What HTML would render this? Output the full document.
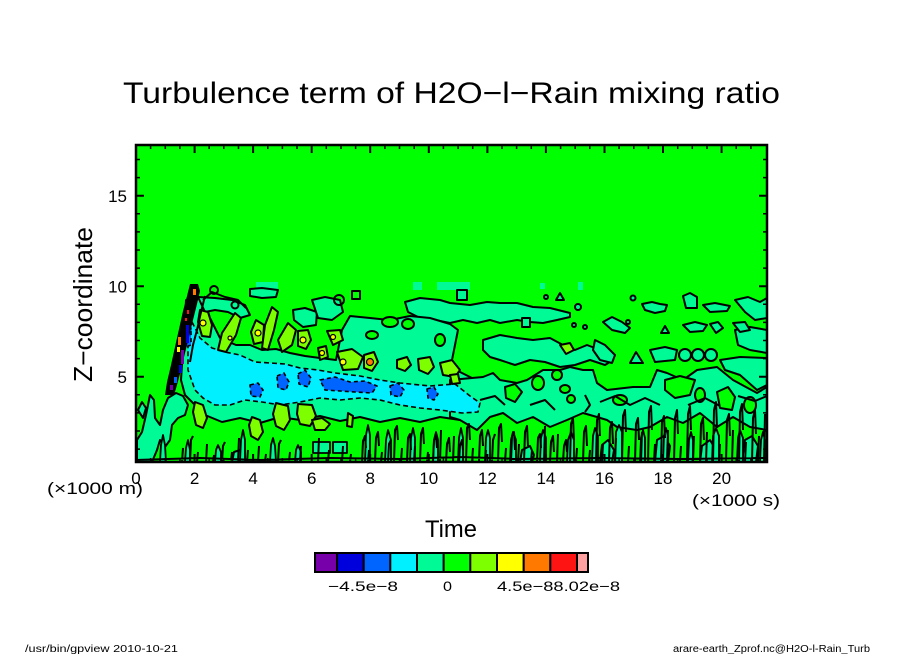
<!DOCTYPE html>
<html><head><meta charset="utf-8"><style>
html,body{margin:0;padding:0;background:#fff;}
svg{display:block;}
text{font-family:"Liberation Sans",sans-serif;fill:#000;}
</style></head><body>
<svg width="904" height="654" viewBox="0 0 904 654" xmlns="http://www.w3.org/2000/svg">
<defs><clipPath id="pc"><rect x="136" y="145" width="631" height="317"/></clipPath></defs>

<text x="123" y="103" font-size="30" textLength="657" lengthAdjust="spacingAndGlyphs">Turbulence term of H2O−l−Rain mixing ratio</text>

<g clip-path="url(#pc)" stroke-linejoin="round">
<rect x="136" y="145" width="631" height="317" fill="#00ff00"/>
<g fill="#00fa96">
<rect x="256" y="282" width="22" height="9"/><rect x="413" y="282" width="9" height="8"/><rect x="437" y="282" width="33" height="8"/><rect x="578" y="282" width="5" height="8"/><rect x="540" y="283" width="5" height="6"/>
</g>
<g fill="#00fa96" stroke="#000" stroke-width="2">
<polygon points="405,302 420,298 440,300 450,303 470,305 487,302 500,303 517,303 533,307 550,308 570,313 570,317 557,320 543,323 530,322 517,320 500,323 490,320 477,323 463,320 450,323 435,320 420,318 408,312"/>
<polygon points="186,300 196,296 205,302 210,318 220,338 236,345 250,345 262,350 276,349 290,353 305,356 320,358 336,360 342,330 350,316 370,318 390,320 410,316 430,318 450,324 458,330 455,345 452,360 460,372 472,378 485,380 482,395 478,415 460,420 440,417 420,422 400,418 380,422 360,417 340,421 320,416 300,420 280,417 260,423 240,418 222,422 205,415 195,405 185,395 181,380 183,350 185,320"/>
<polygon points="198,297 215,298 232,300 245,305 250,315 240,318 228,312 215,310 205,312"/>
<polygon points="250,289 262,288 278,290 276,297 262,298 250,296"/>
<polygon points="293,310 305,308 317,312 316,325 303,327 294,320"/>
<polygon points="312,300 325,297 340,300 343,312 332,320 318,318"/>
<polygon points="483,340 500,335 517,338 533,340 550,338 563,345 575,350 587,345 600,350 613,360 605,365 590,360 575,365 560,367 545,362 530,360 515,365 500,360 490,357 483,350"/>
<polygon points="595,340 605,345 615,355 612,363 600,360 593,350"/>
<polygon points="630,363 636,352 643,363"/>
<polygon points="650,350 665,347 677,350 675,360 655,362"/>
<ellipse cx="685" cy="355" rx="6" ry="6"/><ellipse cx="698" cy="355" rx="6" ry="6"/><ellipse cx="711" cy="355" rx="6" ry="6"/>
<polygon points="720,360 740,357 767,358 767,385 757,390 740,375 725,370"/>
<polygon points="735,330 750,327 767,330 767,353 750,350 738,345"/>
<polygon points="450,380 483,377 493,373 500,380 517,383 527,380 543,370 560,370 570,367 583,370 593,370 597,383 607,390 633,387 650,387 657,370 667,373 683,380 697,370 717,367 733,380 757,393 767,387 767,430 750,427 733,417 717,427 700,413 683,423 667,417 650,427 637,430 617,427 607,420 597,417 583,413 567,420 550,427 533,417 517,423 503,413 490,417 477,430 460,420 450,417"/>
<rect x="457" y="290" width="10" height="10"/>
<polygon points="556,300 560,293 564,300"/>
<circle cx="578" cy="307" r="3"/><circle cx="633" cy="298" r="2.5"/>
<polygon points="642,304 652,302 660,304 667,305 665,311 655,313 645,310"/>
<polygon points="683,296 690,293 697,297 697,308 686,308"/>
<polygon points="703,305 715,303 730,306 727,311 710,312"/>
<polygon points="735,300 748,297 760,302 767,298 767,318 755,320 745,312"/>
<rect x="522" y="318" width="8" height="9"/>
<circle cx="574" cy="325" r="2"/><circle cx="585" cy="327" r="2"/>
<polygon points="603,322 612,317 622,322 630,328 625,333 612,330"/>
<polygon points="661,333 665,326 669,333"/>
<polygon points="683,325 695,322 707,325 703,331 690,332"/>
<polygon points="710,324 718,322 723,328 716,333"/>
<polygon points="733,323 745,322 750,330 740,332"/>
<circle cx="628" cy="322" r="2"/><circle cx="546" cy="297" r="2"/>
<polygon points="137,462 137,440 142,432 146,415 150,395 154,400 155,418 160,425 163,410 168,398 176,393 183,396 188,405 185,415 178,418 172,425 170,440 165,447 160,440 157,450 152,462"/>
<polygon points="138,410 142,402 146,408 143,418"/>
<!-- extra bottom seafoam patches -->
<polygon points="600,462 602,445 608,440 614,450 612,462"/>
<polygon points="655,462 657,440 664,436 670,446 668,462"/>
<polygon points="700,462 702,446 710,440 716,450 714,462"/>
<polygon points="742,462 745,440 752,436 758,446 756,462"/>
<polygon points="520,462 522,450 530,446 534,455 532,462"/>
<polygon points="232,462 234,452 240,450 244,456 242,462"/>
</g>
<g fill="#00ff00" stroke="#000" stroke-width="2">
<ellipse cx="538" cy="383" rx="6" ry="7"/><ellipse cx="557" cy="375" rx="5" ry="5"/><ellipse cx="565" cy="389" rx="5" ry="4"/><ellipse cx="571" cy="399" rx="4" ry="4"/>
<polygon points="665,380 680,376 695,380 690,395 675,398 665,390"/>
<polygon points="717,392 728,387 735,397 732,410 720,408"/>
<ellipse cx="390" cy="322" rx="8" ry="5"/><ellipse cx="408" cy="324" rx="6" ry="5"/>
<polygon points="505,387 515,384 522,392 515,402 506,398"/>
<ellipse cx="620" cy="400" rx="7" ry="5"/>
<ellipse cx="700" cy="395" rx="5" ry="7"/>
<ellipse cx="750" cy="405" rx="6" ry="8"/>
<ellipse cx="372" cy="335" rx="6" ry="4"/><ellipse cx="440" cy="340" rx="5" ry="6"/>
</g>
<polygon fill="#00f0ff" stroke="#000" stroke-width="1.6" stroke-dasharray="5 3" points="192,322 200,338 212,348 225,352 240,355 255,362 270,363 285,364 300,368 318,370 335,373 360,376 380,380 400,383 430,386 455,384 470,396 480,403 478,412 462,413 440,410 420,408 400,405 380,400 360,398 340,400 320,398 300,402 280,405 262,402 245,400 230,405 215,405 203,398 195,390 188,370 188,345"/>
<g fill="#0064ff" stroke="#000" stroke-width="1.6" stroke-dasharray="4 3">
<polygon points="250,385 258,383 263,390 260,397 251,396"/>
<polygon points="277,376 284,373 289,382 286,390 278,388"/>
<polygon points="298,374 305,370 311,378 308,387 299,384"/>
<polygon points="320,380 335,377 350,382 365,381 377,386 372,393 355,392 340,391 325,390"/>
<polygon points="390,386 398,383 404,390 400,397 391,395"/>
<polygon points="427,389 434,387 438,394 434,400 428,398"/>
<polygon points="186,327 191,330 191,345 186,347"/>
</g>
<g fill="#7dff00" stroke="#000" stroke-width="2">
<polygon points="200,310 208,312 212,325 210,337 202,336 198,322"/>
<polygon points="235,313 241,318 236,335 226,352 218,350 222,333"/>
<polygon points="256,320 264,325 263,342 254,344 251,332"/>
<polygon points="272,307 278,312 274,330 268,350 262,348 265,325"/>
<polygon points="288,323 296,330 292,345 282,352 278,340"/>
<polygon points="298,331 308,330 311,340 306,349 298,346"/>
<polygon points="318,348 326,346 328,357 320,360"/>
<polygon points="327,331 340,330 343,340 333,345"/>
<polygon points="337,352 352,349 363,357 358,369 343,370"/>
<polygon points="364,355 374,352 378,362 372,371 364,368"/>
<polygon points="397,360 407,357 411,365 405,371 397,368"/>
<polygon points="418,359 430,357 434,367 428,374 419,370"/>
<polygon points="440,363 452,360 460,370 455,377 443,375"/>
<polygon points="195,402 203,405 207,418 203,428 196,425 193,412"/>
<polygon points="252,417 260,420 263,432 258,440 251,436 249,425"/>
<polygon points="276,403 288,406 290,420 284,430 276,426 273,414"/>
<polygon points="298,404 312,405 316,416 310,426 300,424 297,414"/>
<polygon points="312,420 322,418 330,424 325,430 315,430"/>
<polygon points="348,413 353,416 352,427 347,426"/>
<polygon points="450,375 458,374 460,383 452,384"/>
<polygon points="560,345 570,343 574,350 566,354"/>
</g>
<g stroke="#000" stroke-width="1.2">
<circle cx="203" cy="323" r="3" fill="#ffff00"/>
<circle cx="258" cy="333" r="3" fill="#ffff00"/>
<circle cx="303" cy="340" r="3" fill="#ffff00"/>
<circle cx="322" cy="353" r="2.5" fill="#ffff00"/>
<circle cx="333" cy="337" r="2.5" fill="#ffff00"/>
<circle cx="343" cy="362" r="3" fill="#ffff00"/>
<circle cx="370" cy="362" r="3.5" fill="#ff7800"/>
<circle cx="230" cy="338" r="2" fill="#ffff00"/>
</g>
<!-- leading streak (narrower) -->
<polygon fill="#000" points="190,284 198,284 200,291 197,304 193,320 189,337 185,353 181,370 177,385 174,395 165,395 167,382 171,365 175,347 179,329 183,311 187,296"/>
<g>
<rect x="193" y="289" width="3" height="6" fill="#ff7800"/>
<rect x="187" y="310" width="2" height="4" fill="#ff1414"/>
<rect x="185" y="318" width="2" height="3" fill="#ff1414"/>
<rect x="186" y="325" width="3" height="18" fill="#0000dc"/>
<rect x="178" y="337" width="3" height="8" fill="#ff7800"/>
<rect x="177" y="347" width="3" height="5" fill="#ffff00"/>
<rect x="181" y="350" width="3" height="14" fill="#7800aa"/>
<rect x="179" y="365" width="3" height="8" fill="#0000dc"/>
<rect x="174" y="377" width="3" height="6" fill="#0064ff"/>
<rect x="170" y="385" width="3" height="5" fill="#7800aa"/>
</g>
<g fill="none" stroke="#000" stroke-width="2">
<circle cx="214" cy="290" r="4"/><circle cx="235" cy="305" r="3.5"/><circle cx="339" cy="300" r="5"/>
<rect x="352" y="291" width="8" height="8"/>
<polyline points="203,300 212,292 225,297 238,300 246,308"/>
<polyline points="205,296 201,312 197,330 193,345 190,362"/>
<polyline points="600,402 615,396 630,405 645,398 660,405"/>
<polyline points="688,405 705,398 720,406"/>
<polyline points="738,396 755,401 767,396"/>
<polyline points="480,400 495,396 505,405"/>
<polyline points="530,405 545,400 555,410"/>
<polyline points="585,395 590,405 585,412"/>
</g>
<g fill="#00fa96" stroke="#000" stroke-width="1.8">
<polygon points="160,462 161,445 163,435 165,445 166,462"/>
<polygon points="185,462 186,448 188,440 190,450 190,462"/>
<polygon points="215,462 216,450 218,445 221,452 221,462"/>
<polygon points="240,462 241,440 243,430 245,440 245,462"/>
<polygon points="270,462 271,445 273,438 275,446 276,462"/>
<polygon points="295,462 296,450 298,445 301,452 301,462"/>
<rect x="313" y="442" width="17" height="11"/>
<rect x="333" y="442" width="14" height="11"/>
<polygon points="365,462 366,435 368,425 370,435 370,462"/>
<polygon points="385,462 386,440 388,430 391,440 391,462"/>
<polygon points="410,462 411,438 413,428 415,438 415,462"/>
<polygon points="433,462 434,440 436,432 438,440 438,462"/>
<polygon points="458,462 459,438 461,428 463,438 463,462"/>
<polygon points="485,462 486,438 488,430 490,438 490,462"/>
<polygon points="510,462 511,440 513,432 516,440 516,462"/>
<polygon points="540,462 541,438 543,430 546,438 546,462"/>
<polygon points="567,462 568,440 571,432 574,440 574,462"/>
<polygon points="592,462 593,436 595,428 598,436 598,462"/>
<polygon points="615,462 616,432 619,425 622,432 622,462"/>
<polygon points="640,462 641,438 643,430 645,438 645,462"/>
<polygon points="663,462 664,436 666,428 668,436 668,462"/>
<polygon points="688,462 689,440 691,432 693,440 693,462"/>
<polygon points="712,462 713,436 716,428 719,436 719,462"/>
<polygon points="737,462 738,438 740,430 743,438 743,462"/>
<polygon points="760,462 761,440 763,432 765,440 765,462"/>
</g>
<path fill="none" stroke="#000" stroke-width="2" d="
M362,462L363,441L365,436L366,448 M368,462L369,450 M375,462L376,438L378,432L379,446 M381,462L382,452
M388,462L389,444L391,440 M394,462L395,430L397,426L398,440 M401,462L402,448 M407,462L408,438L410,434L411,450
M414,462L415,446 M420,462L421,434L423,428L424,444 M427,462L428,452 M433,462L434,440L436,436L437,448
M440,462L441,430 M446,462L447,444L449,438L450,452 M453,462L454,436 M459,462L460,446L462,440L463,450
M466,462L467,428L469,424L470,440 M472,462L473,448 M479,462L480,436L482,430L483,446 M485,462L486,450
M492,462L493,440L495,434 M498,462L499,428L501,424L502,442 M505,462L506,448 M511,462L512,436L514,432L515,450
M518,462L519,444 M524,462L525,432L527,426L528,446 M531,462L532,450 M537,462L538,438L540,434L541,448
M544,462L545,426 M550,462L551,442L553,436L554,452 M557,462L558,434 M563,462L564,446L566,440L567,452
M570,462L571,424L573,418L574,440 M576,462L577,448 M583,462L584,432L586,426L587,446 M589,462L590,450
M596,462L597,420L599,414L600,436 M602,462L603,444 M609,462L610,428L612,422L613,444 M615,462L616,438
M622,462L623,416L625,410L626,432 M628,462L629,446 M635,462L636,424L638,418L639,440 M641,462L642,432
M648,462L649,412L651,406L652,430 M654,462L655,444 M661,462L662,422L664,416L665,438 M667,462L668,430
M674,462L675,418L677,410L678,434 M680,462L681,446 M687,462L688,414L690,406L691,430 M693,462L694,436
M700,462L701,424L703,418L704,440 M706,462L707,432 M713,462L714,410L716,402L717,428 M719,462L720,444
M726,462L727,420L729,414L730,436 M732,462L733,430 M739,462L740,412L742,404L743,430 M745,462L746,442
M752,462L753,418L755,410L756,434 M758,462L759,436 M764,462L765,414
M182,462L183,448 M190,462L191,440L193,436 M197,462L198,452 M206,462L207,444 M213,462L214,455 M222,462L223,446L225,442
M231,462L232,452 M238,462L239,438 M247,462L248,450 M258,462L259,446 M265,462L266,454 M278,462L279,444L281,440
M289,462L290,452 M300,462L301,446 M318,462L319,438 M328,462L329,450 M342,462L343,446 M350,462L351,454
M136,460L200,458L260,460L330,458L400,459L460,457L520,459L600,458L680,459L767,458"/>
</g>

<rect x="136" y="145" width="631" height="317" fill="none" stroke="#000" stroke-width="2.5"/>
<path stroke="#000" stroke-width="2" fill="none" d="
M136,462v-8M194.6,462v-8M253.1,462v-8M311.7,462v-8M370.2,462v-8M428.8,462v-8M487.4,462v-8M545.9,462v-8M604.5,462v-8M663,462v-8M721.6,462v-8
M194.6,145v8M253.1,145v8M311.7,145v8M370.2,145v8M428.8,145v8M487.4,145v8M545.9,145v8M604.5,145v8M663,145v8M721.6,145v8
M136,376.7h8M136,286.2h8M136,195.7h8M767,376.7h-8M767,286.2h-8M767,195.7h-8"/>
<path stroke="#000" stroke-width="1.5" fill="none" d="
M150.6,462v-4M165.3,462v-4M179.9,462v-4M209.2,462v-4M223.8,462v-4M238.5,462v-4M267.8,462v-4M282.4,462v-4M297,462v-4M326.3,462v-4M341,462v-4M355.6,462v-4M384.9,462v-4M399.5,462v-4M414.2,462v-4M443.4,462v-4M458.1,462v-4M472.7,462v-4M502,462v-4M516.6,462v-4M531.3,462v-4M560.6,462v-4M575.2,462v-4M589.8,462v-4M619.1,462v-4M633.8,462v-4M648.4,462v-4M677.7,462v-4M692.3,462v-4M707,462v-4M736.2,462v-4M750.9,462v-4
M150.6,145v4M165.3,145v4M179.9,145v4M209.2,145v4M223.8,145v4M238.5,145v4M267.8,145v4M282.4,145v4M297,145v4M326.3,145v4M341,145v4M355.6,145v4M384.9,145v4M399.5,145v4M414.2,145v4M443.4,145v4M458.1,145v4M472.7,145v4M502,145v4M516.6,145v4M531.3,145v4M560.6,145v4M575.2,145v4M589.8,145v4M619.1,145v4M633.8,145v4M648.4,145v4M677.7,145v4M692.3,145v4M707,145v4M736.2,145v4M750.9,145v4
M136,449.1h4M136,431h4M136,412.9h4M136,394.8h4M136,358.6h4M136,340.5h4M136,322.4h4M136,304.3h4M136,268.1h4M136,250h4M136,231.9h4M136,213.8h4M136,177.6h4M136,159.5h4
M767,449.1h-4M767,431h-4M767,412.9h-4M767,394.8h-4M767,358.6h-4M767,340.5h-4M767,322.4h-4M767,304.3h-4M767,268.1h-4M767,250h-4M767,231.9h-4M767,213.8h-4M767,177.6h-4M767,159.5h-4"/>

<g font-size="17">
<text x="127" y="202" text-anchor="end">15</text>
<text x="127" y="292.5" text-anchor="end">10</text>
<text x="127" y="383" text-anchor="end">5</text>
<g text-anchor="middle">
<text x="136" y="484">0</text><text x="194.6" y="484">2</text><text x="253.1" y="484">4</text><text x="311.7" y="484">6</text><text x="370.2" y="484">8</text><text x="428.8" y="484">10</text><text x="487.4" y="484">12</text><text x="545.9" y="484">14</text><text x="604.5" y="484">16</text><text x="663" y="484">18</text><text x="721.6" y="484">20</text>
</g>
<text x="47" y="494" textLength="96" lengthAdjust="spacingAndGlyphs">(×1000 m)</text>
<text x="692" y="506" textLength="88" lengthAdjust="spacingAndGlyphs">(×1000 s)</text>
</g>
<text x="425" y="537" font-size="24" textLength="52" lengthAdjust="spacingAndGlyphs">Time</text>
<text transform="translate(92,304.5) rotate(-90)" font-size="26" text-anchor="middle" textLength="155" lengthAdjust="spacingAndGlyphs">Z−coordinate</text>

<g stroke="#000" stroke-width="2">
<rect x="315" y="553" width="22" height="19" fill="#7800aa"/>
<rect x="337" y="553" width="26.7" height="19" fill="#0000dc"/>
<rect x="363.7" y="553" width="26.7" height="19" fill="#0064ff"/>
<rect x="390.3" y="553" width="26.7" height="19" fill="#00f0ff"/>
<rect x="417" y="553" width="26.7" height="19" fill="#00fa96"/>
<rect x="443.7" y="553" width="26.7" height="19" fill="#00ff00"/>
<rect x="470.3" y="553" width="26.7" height="19" fill="#7dff00"/>
<rect x="497" y="553" width="26.7" height="19" fill="#ffff00"/>
<rect x="523.7" y="553" width="26.7" height="19" fill="#ff7800"/>
<rect x="550.3" y="553" width="26.7" height="19" fill="#ff1414"/>
<rect x="577" y="553" width="11" height="19" fill="#ffa0a0"/>
</g>
<g font-size="14">
<text x="328" y="591" textLength="70" lengthAdjust="spacingAndGlyphs">−4.5e−8</text>
<text x="443" y="591" textLength="9" lengthAdjust="spacingAndGlyphs">0</text>
<text x="497" y="591" textLength="123" lengthAdjust="spacingAndGlyphs">4.5e−88.02e−8</text>
</g>

<g font-size="10">
<text x="25" y="652" textLength="153" lengthAdjust="spacingAndGlyphs">/usr/bin/gpview  2010-10-21</text>
<text x="673" y="652" textLength="197" lengthAdjust="spacingAndGlyphs">arare-earth_Zprof.nc@H2O-l-Rain_Turb</text>
</g>
</svg>
</body></html>
